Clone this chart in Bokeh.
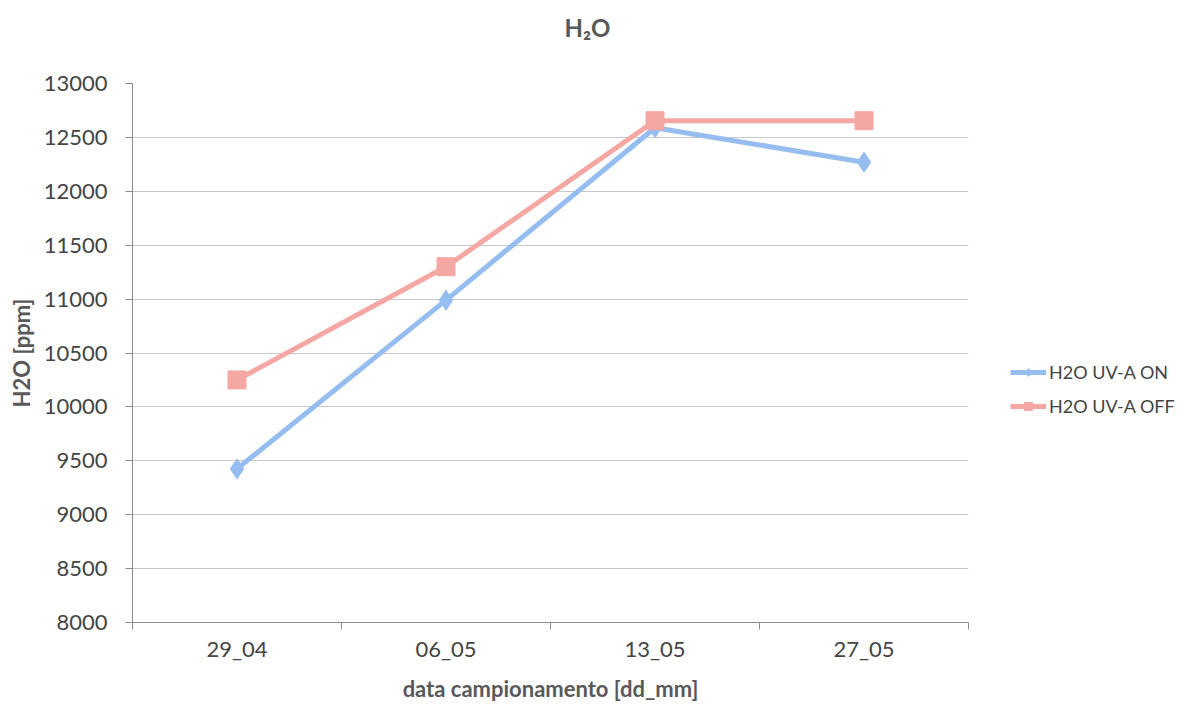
from bokeh.plotting import figure
from bokeh.models import Range1d, FixedTicker, Legend, LegendItem, ColumnDataSource, Title
from bokeh.embed import file_html
from bokeh.resources import INLINE

categories = ["29_04", "06_05", "13_05", "27_05"]
uv_on = [9425, 10990, 12590, 12270]
uv_off = [10250, 11300, 12655, 12655]
y_ticks = [8000, 8500, 9000, 9500, 10000, 10500, 11000, 11500, 12000, 12500, 13000]
title_text = "H\u2082O"

xpos = [i + 0.5 for i in range(len(categories))]
src = ColumnDataSource(dict(x=xpos, on=uv_on, off=uv_off))

FONT = "Lato"
GRAY = "#444444"

p = figure(frame_width=836, frame_height=539, output_backend="svg", toolbar_location=None,
           x_range=Range1d(0, len(categories)), y_range=Range1d(8000, 13000),
           min_border_left=132, min_border_right=0, min_border_top=83, min_border_bottom=10)
p.outline_line_color = None
p.background_fill_color = "white"
p.border_fill_color = "white"

# real title (outermost)
p.title.text = title_text
p.title.align = "left"
p.title.offset = 432
p.title.standoff = 0
p.title.text_font = FONT
p.title.text_font_size = "24px"
p.title.text_font_style = "bold"
p.title.text_color = "#595959"

# spacer between the frame and the title
spacer = Title(text=" ", text_font_size="1px", standoff=39)
p.add_layout(spacer, "above")

# grid
p.xgrid.visible = False
p.ygrid.ticker = FixedTicker(ticks=y_ticks)
p.ygrid.grid_line_color = "#c8c8c8"
p.ygrid.grid_line_width = 1

# axes
p.yaxis.ticker = FixedTicker(ticks=y_ticks)
p.xaxis.ticker = FixedTicker(ticks=xpos, minor_ticks=list(range(len(categories) + 1)))
p.xaxis.major_label_overrides = {x: c for x, c in zip(xpos, categories)}
p.xaxis.major_tick_out = 0
p.xaxis.major_tick_in = 0
p.xaxis.minor_tick_out = 7
p.xaxis.minor_tick_in = 0
p.yaxis.major_tick_out = 7
p.yaxis.major_tick_in = 0
for ax in (p.xaxis, p.yaxis):
    ax.axis_line_color = "#8c8c8c"
    ax.major_tick_line_color = "#8c8c8c"
    ax.minor_tick_line_color = "#8c8c8c"
    ax.major_label_text_font = FONT
    ax.major_label_text_font_size = "22px"
    ax.major_label_text_color = GRAY
    ax.axis_label_text_font = FONT
    ax.axis_label_text_font_size = "22px"
    ax.axis_label_text_font_style = "bold"
    ax.axis_label_text_color = "#595959"
p.yaxis.minor_tick_line_color = None
p.yaxis.major_label_standoff = 18
p.xaxis.major_label_standoff = 5
p.xaxis.axis_label = "data campionamento [dd_mm]"
p.yaxis.axis_label = "H2O [ppm]"
p.yaxis.axis_label_standoff = 6
p.xaxis.axis_label_standoff = 10

BLUE = "#95bdf0"
PINK = "#f4a7a3"

l_on = p.line("x", "on", source=src, line_color=BLUE, line_width=5)
m_on = p.scatter("x", "on", source=src, marker="diamond", size=20, fill_color=BLUE, line_color=BLUE)
l_off = p.line("x", "off", source=src, line_color=PINK, line_width=5)
m_off = p.scatter("x", "off", source=src, marker="square", size=18, fill_color=PINK, line_color=PINK)

legend = Legend(items=[LegendItem(label="H2O UV-A ON", renderers=[l_on, m_on]),
                       LegendItem(label="H2O UV-A OFF", renderers=[l_off, m_off])],
                location=(42, 205))
legend.border_line_color = None
legend.background_fill_alpha = 0
legend.label_text_font = FONT
legend.label_text_font_size = "18px"
legend.label_text_color = GRAY
legend.glyph_width = 36
legend.spacing = 12
legend.label_standoff = 3
p.add_layout(legend, "right")

open("out.html", "w").write(file_html(p, INLINE))
